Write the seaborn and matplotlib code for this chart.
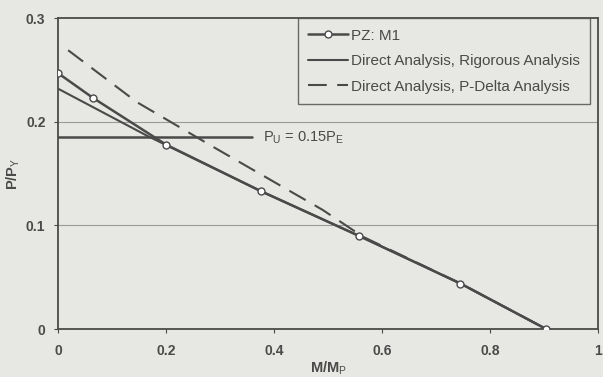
import matplotlib
matplotlib.use("Agg")
import matplotlib.pyplot as plt
import seaborn as sns
import pandas as pd

# data
pz_x = [0.0, 0.065, 0.20, 0.376, 0.557, 0.745, 0.904]
pz_y = [0.247, 0.223, 0.178, 0.133, 0.090, 0.044, 0.0]

rig_x = [0.0, 0.167, 0.376, 0.557, 0.745, 0.904]
rig_y = [0.232, 0.186, 0.133, 0.090, 0.044, 0.0]

pd_x = [0.019, 0.146, 0.29, 0.49, 0.565, 0.745, 0.904]
pd_y = [0.269, 0.219, 0.175, 0.115, 0.089, 0.044, 0.0]

pu_x = [0.0, 0.36]
pu_y = [0.185, 0.185]

bg = "#e7e7e3"
ink = "#4a4a4a"

sns.set_theme(style="white")
plt.rcParams["font.family"] = ["Liberation Sans", "DejaVu Sans"]
plt.rcParams["mathtext.fontset"] = "custom"
plt.rcParams["mathtext.rm"] = "Liberation Sans"

fig = plt.figure(figsize=(6.03, 3.77), dpi=100, facecolor=bg)
ax = fig.add_axes([0.096, 0.127, 0.896, 0.825], facecolor=bg)

for yv in [0.1, 0.2]:
    ax.axhline(yv, color="#9a9a9a", lw=0.8, zorder=0)

sns.lineplot(x=pz_x, y=pz_y, ax=ax, color=ink, lw=1.8, marker="o",
             markersize=5, markerfacecolor="white", markeredgecolor=ink,
             markeredgewidth=1.0, label="PZ: M1", zorder=4)
sns.lineplot(x=rig_x, y=rig_y, ax=ax, color=ink, lw=1.5,
             label="Direct Analysis, Rigorous Analysis", zorder=3)
sns.lineplot(x=pd_x, y=pd_y, ax=ax, color=ink, lw=1.5, linestyle=(0, (9, 5)),
             label="Direct Analysis, P-Delta Analysis", zorder=3)
sns.lineplot(x=pu_x, y=pu_y, ax=ax, color=ink, lw=1.8, zorder=3)

ax.text(0.38, 0.185, r"P$_\mathrm{U}$ = 0.15P$_\mathrm{E}$", fontsize=10.5,
        color=ink, va="center", ha="left")

ax.set_xlim(0, 1)
ax.set_ylim(0, 0.3)
ax.set_xticks([0, 0.2, 0.4, 0.6, 0.8, 1])
ax.set_xticklabels(["0", "0.2", "0.4", "0.6", "0.8", "1"])
ax.set_yticks([0, 0.1, 0.2, 0.3])
ax.set_yticklabels(["0", "0.1", "0.2", "0.3"])
ax.tick_params(axis="both", labelsize=10, colors=ink, length=3, width=0.8,
               direction="out", bottom=True, left=True)
ax.tick_params(axis="x", pad=8)
ax.tick_params(axis="y", pad=6)
for lab in ax.get_xticklabels() + ax.get_yticklabels():
    lab.set_fontweight("bold")

ax.set_xlabel(r"M/M$_\mathrm{P}$", fontsize=10.5, fontweight="bold", color=ink, labelpad=1)
ax.set_ylabel(r"P/P$_\mathrm{Y}$", fontsize=10.5, fontweight="bold", color=ink, labelpad=3)

for s in ax.spines.values():
    s.set_color(ink)
    s.set_linewidth(1.3)

leg = ax.legend(loc="upper right", bbox_to_anchor=(0.985, 1.0), borderaxespad=0,
                fontsize=11, frameon=True, fancybox=False, handlelength=2.6,
                handletextpad=0.15, borderpad=0.7, labelspacing=0.75,
                facecolor=bg, edgecolor=ink, labelcolor=ink)
leg.get_frame().set_linewidth(1.0)

fig.savefig("out.png", dpi=100, facecolor=bg)
